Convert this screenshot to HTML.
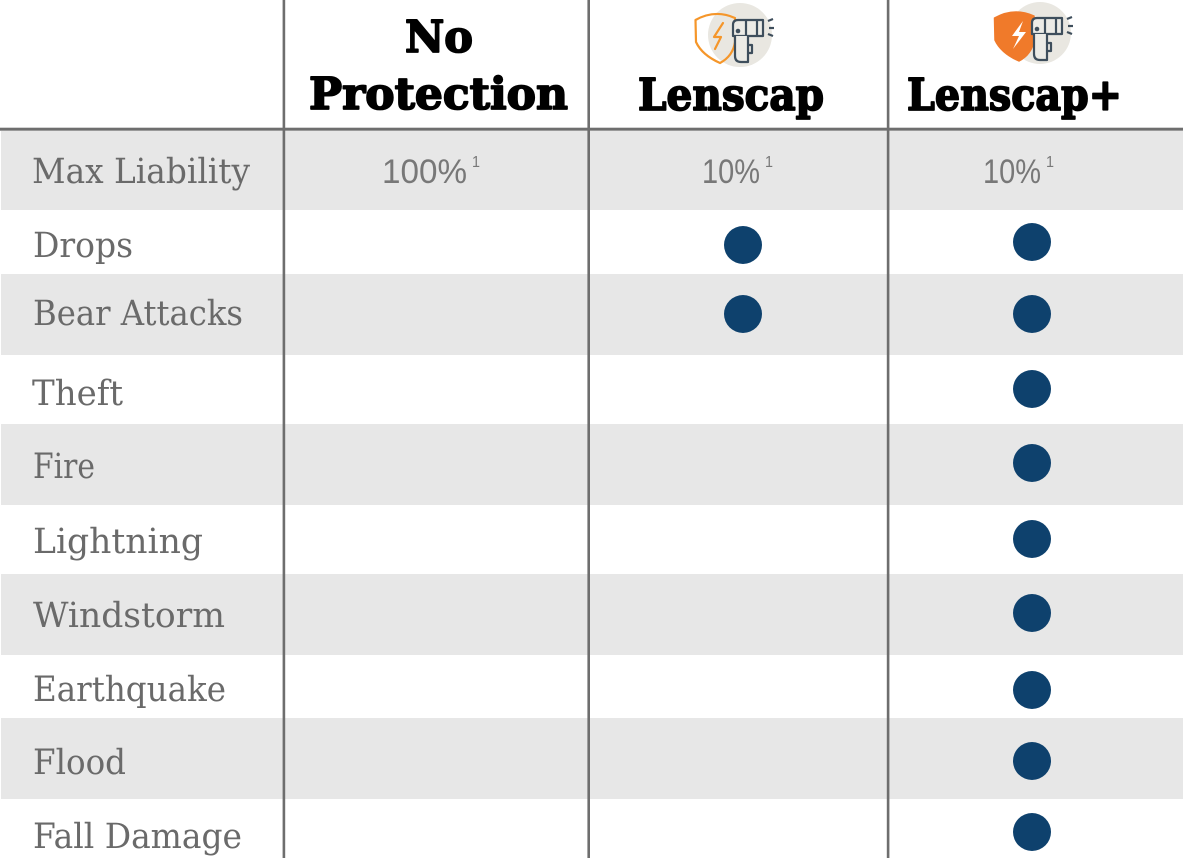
<!DOCTYPE html>
<html>
<head>
<meta charset="utf-8">
<style>
  html, body { margin: 0; padding: 0; background: #ffffff; }
  svg { display: block; }
</style>
</head>
<body>
<svg width="1183" height="858" viewBox="0 0 1183 858" xmlns="http://www.w3.org/2000/svg">
  <rect x="0" y="0" width="1183" height="858" fill="#ffffff"/>

  <!-- row bands -->
  <g fill="#e7e7e7">
    <rect x="1" y="131" width="1182" height="79"/>
    <rect x="1" y="274" width="1182" height="81"/>
    <rect x="1" y="424" width="1182" height="81"/>
    <rect x="1" y="574" width="1182" height="81"/>
    <rect x="1" y="718" width="1182" height="81"/>
  </g>

  <!-- grid lines -->
  <g fill="#6e6e6e">
    <rect x="0" y="127.7" width="1183" height="3"/>
    <rect x="282.6" y="0" width="2.6" height="858"/>
    <rect x="587.4" y="0" width="2.6" height="858"/>
    <rect x="886.8" y="0" width="2.6" height="858"/>
  </g>

  <!-- Header text -->
  <g font-family="'DejaVu Serif', 'Liberation Serif', serif" font-weight="bold" font-size="44" fill="#000000" stroke="#000" stroke-width="1.8" stroke-linejoin="round">
    <text x="405" y="52" textLength="68" lengthAdjust="spacingAndGlyphs">No</text>
    <text x="309" y="109" textLength="259" lengthAdjust="spacingAndGlyphs">Protection</text>
    <text x="638" y="110" textLength="186" lengthAdjust="spacingAndGlyphs">Lenscap</text>
    <text x="907" y="110" textLength="215" lengthAdjust="spacingAndGlyphs">Lenscap+</text>
  </g>

  <!-- Icon 1: Lenscap -->
  <g>
    <circle cx="740" cy="35" r="32" fill="#e9e7e1"/>
    <path d="M695.5,20 Q715,9 735,18 L735,42 Q733,56 720,63 Q702,55 696,42 Z" fill="none" stroke="#f5962a" stroke-width="2.2" stroke-linejoin="round"/>
    <path d="M723,23 L714,37 L721,37 L715,49" fill="none" stroke="#f5962a" stroke-width="2.2" stroke-linejoin="round" stroke-linecap="round"/>
    <g fill="none" stroke="#3e4e5c" stroke-width="2.2" stroke-linejoin="round">
      <path d="M738,20 L763,20 L763,36 L733,36 L733,25 Q733,20 738,20 Z" fill="#ecebe6"/>
      <line x1="746" y1="20" x2="746" y2="36"/>
      <line x1="757" y1="20" x2="757" y2="36"/>
      <path d="M735,36 L735,56 Q735,62 741,62 L748,62 L748,36" fill="#ecebe6"/>
      <path d="M748,45 L752,45 L752,53 L748,53"/>
      <line x1="768" y1="21" x2="773" y2="19"/>
      <line x1="769" y1="28" x2="774" y2="28"/>
      <line x1="768" y1="34" x2="773" y2="36"/>
    </g>
    <circle cx="738" cy="31" r="2.3" fill="#3e4e5c"/>
  </g>

  <!-- Icon 2: Lenscap+ -->
  <g transform="translate(299,-2)">
    <circle cx="741" cy="35" r="31" fill="#e9e7e1"/>
    <path d="M695.5,20 Q715,9 735,18 L735,42 Q733,56 720,63 Q702,55 696,42 Z" fill="#f07a2a" stroke="#f07a2a" stroke-width="1.5" stroke-linejoin="round"/>
    <path d="M724,23 L713,38 L720,38 L714,51 L727,34 L720,34 Z" fill="#ffffff"/>
    <g fill="none" stroke="#3e4e5c" stroke-width="2.2" stroke-linejoin="round">
      <path d="M738,20 L763,20 L763,36 L733,36 L733,25 Q733,20 738,20 Z" fill="#ecebe6"/>
      <line x1="746" y1="20" x2="746" y2="36"/>
      <line x1="757" y1="20" x2="757" y2="36"/>
      <path d="M735,36 L735,56 Q735,62 741,62 L748,62 L748,36" fill="#ecebe6"/>
      <path d="M748,45 L752,45 L752,53 L748,53"/>
      <line x1="768" y1="21" x2="773" y2="19"/>
      <line x1="769" y1="28" x2="774" y2="28"/>
      <line x1="768" y1="34" x2="773" y2="36"/>
    </g>
    <circle cx="738" cy="31" r="2.3" fill="#3e4e5c"/>
  </g>

  <!-- Row labels -->
  <g font-family="'DejaVu Serif', 'Liberation Serif', serif" font-size="35" fill="#6a6a6a">
    <text x="32" y="183" textLength="218" lengthAdjust="spacingAndGlyphs">Max Liability</text>
    <text x="33" y="257" textLength="100" lengthAdjust="spacingAndGlyphs">Drops</text>
    <text x="33" y="325" textLength="210" lengthAdjust="spacingAndGlyphs">Bear Attacks</text>
    <text x="32" y="405" textLength="91" lengthAdjust="spacingAndGlyphs">Theft</text>
    <text x="33" y="478" textLength="62" lengthAdjust="spacingAndGlyphs">Fire</text>
    <text x="33" y="553" textLength="170" lengthAdjust="spacingAndGlyphs">Lightning</text>
    <text x="33" y="627" textLength="192" lengthAdjust="spacingAndGlyphs">Windstorm</text>
    <text x="33" y="701" textLength="193" lengthAdjust="spacingAndGlyphs">Earthquake</text>
    <text x="33" y="774" textLength="93" lengthAdjust="spacingAndGlyphs">Flood</text>
    <text x="33" y="848" textLength="209" lengthAdjust="spacingAndGlyphs">Fall Damage</text>
  </g>

  <!-- Max liability values -->
  <g font-family="'Liberation Sans', sans-serif" fill="#787878">
    <text x="382" y="183" font-size="34" textLength="85" lengthAdjust="spacingAndGlyphs">100%</text>
    <text x="472" y="167" font-size="16" textLength="8" lengthAdjust="spacingAndGlyphs">1</text>
    <text x="702" y="183" font-size="34" textLength="58" lengthAdjust="spacingAndGlyphs">10%</text>
    <text x="765" y="167" font-size="16" textLength="8" lengthAdjust="spacingAndGlyphs">1</text>
    <text x="983" y="183" font-size="34" textLength="58" lengthAdjust="spacingAndGlyphs">10%</text>
    <text x="1046" y="167" font-size="16" textLength="8" lengthAdjust="spacingAndGlyphs">1</text>
  </g>

  <!-- Dots -->
  <g fill="#0e416d">
    <circle cx="743" cy="245" r="19"/>
    <circle cx="743" cy="314" r="19"/>
    <circle cx="1032" cy="242" r="19"/>
    <circle cx="1032" cy="314" r="19"/>
    <circle cx="1032" cy="389" r="19"/>
    <circle cx="1032" cy="463" r="19"/>
    <circle cx="1032" cy="539" r="19"/>
    <circle cx="1032" cy="613" r="19"/>
    <circle cx="1032" cy="690" r="19"/>
    <circle cx="1032" cy="761" r="19"/>
    <circle cx="1032" cy="832" r="19"/>
  </g>
</svg>
</body>
</html>
